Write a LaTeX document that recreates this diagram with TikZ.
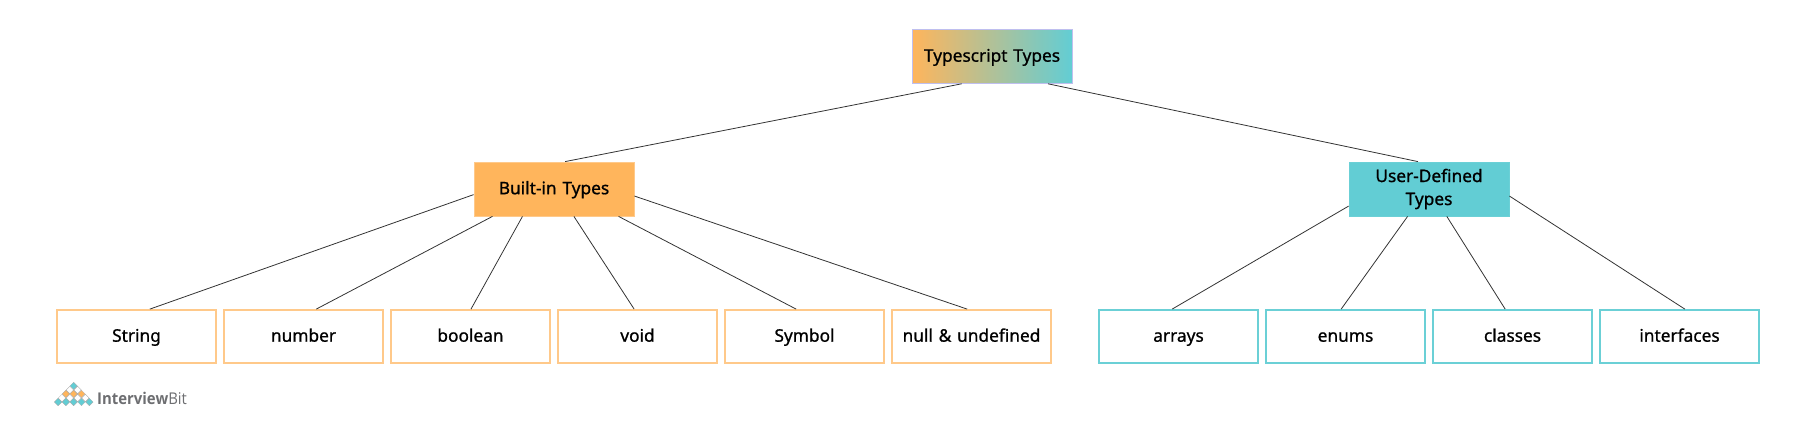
\documentclass[tikz,border=0pt]{standalone}
\usepackage{fontspec}
\usetikzlibrary{shapes.geometric}
\setmainfont{Noto Sans}[FakeBold=0.9]
\newfontfamily\logofont{Open Sans}[FakeStretch=0.92]
\definecolor{orangefill}{HTML}{FFB55C}
\definecolor{orangeline}{HTML}{FFC98A}
\definecolor{tealfill}{HTML}{62CDD4}
\definecolor{tealline}{HTML}{6BD0D6}
\definecolor{logogray}{HTML}{6D6E71}

\begin{document}
\begin{tikzpicture}[x=1pt, y=-1pt,
    box/.style={rectangle, minimum width=160pt, minimum height=54pt, align=center, inner sep=0pt, text width=150pt, font=\fontsize{17.3}{23}\selectfont},
    oneline/.style={box, text height=13pt, text depth=2.6pt},
    rootbox/.style={oneline, left color=orangefill, right color=tealfill, draw=black!25!blue!25, line width=.6pt},
    builtinbox/.style={oneline, fill=orangefill, draw=orangeline, line width=.8pt},
    userbox/.style={box, fill=tealfill, draw=tealline, line width=.8pt},
    orangeleaf/.style={oneline, minimum width=159pt, minimum height=53pt, fill=white, draw=orangeline, line width=1.8pt},
    tealleaf/.style={oneline, minimum width=159pt, minimum height=53pt, fill=white, draw=tealline, line width=1.8pt},
    link/.style={draw=black!80, line width=.8pt},
    dot/.style={diamond, draw=black!35, line width=.3pt, inner sep=0pt, minimum size=7.6pt}]

    \useasboundingbox (0,0) rectangle (1814,428);

    % Top of the tree
    \node[rootbox] (root) at (992,56.5) {Typescript Types};
    \node[builtinbox] (builtin) at (554,189) {Built-in Types};
    \node[userbox] (user) at (1429,189) {User-Defined\\Types};

    % Leaves
    \node[orangeleaf] (string) at (136.5,336.5) {String};
    \node[orangeleaf] (number) at (303.5,336.5) {number};
    \node[orangeleaf] (boolean) at (470.5,336.5) {boolean};
    \node[orangeleaf] (void) at (637.5,336.5) {void};
    \node[orangeleaf] (symbol) at (804.5,336.5) {Symbol};
    \node[orangeleaf] (null) at (971.5,336.5) {null \& undefined};
    \node[tealleaf] (arrays) at (1178.5,336.5) {arrays};
    \node[tealleaf] (enums) at (1345.5,336.5) {enums};
    \node[tealleaf] (classes) at (1512.5,336.5) {classes};
    \node[tealleaf] (interfaces) at (1679.5,336.5) {interfaces};

    % Edges
    \draw[link] (root.222.5) -- (builtin.68);
    \draw[link] (root.-26.6) -- (user.112);
    \draw[link] (builtin.184.3) -- (string.64);
    \draw[link] (builtin.204.6) -- (number.65.6);
    \draw[link] (builtin.221) -- (boolean.89);
    \draw[link] (builtin.-54.9) -- (void.97);
    \draw[link] (builtin.-23.9) -- (symbol.107);
    \draw[link] (builtin.-5) -- (null.99);
    \draw[link] (user.192.7) -- (arrays.103);
    \draw[link] (user.232) -- (enums.99);
    \draw[link] (user.-57.8) -- (classes.105);
    \draw[link] (user.-5) -- (interfaces.79);

    % Logo
    \foreach \px/\py/\col in {73.7/386/tealfill,
        69.8/390/white, 77.6/390/white,
        65.9/394/orangefill, 73.7/394/orangefill, 81.5/394/orangefill,
        62/398/white, 69.8/398/white, 77.6/398/white, 85.4/398/white,
        58.1/402/tealfill, 65.9/402/tealfill, 73.7/402/tealfill, 81.5/402/tealfill, 89.3/402/tealfill}
        \node[dot, fill=\col] at (\px,\py) {};
    \node[anchor=west, inner sep=0pt, text=logogray, font=\logofont\fontsize{16.2}{20}\selectfont] (logo) at (97,398.5) {\textbf{Interview}Bit};
\end{tikzpicture}
\end{document}
